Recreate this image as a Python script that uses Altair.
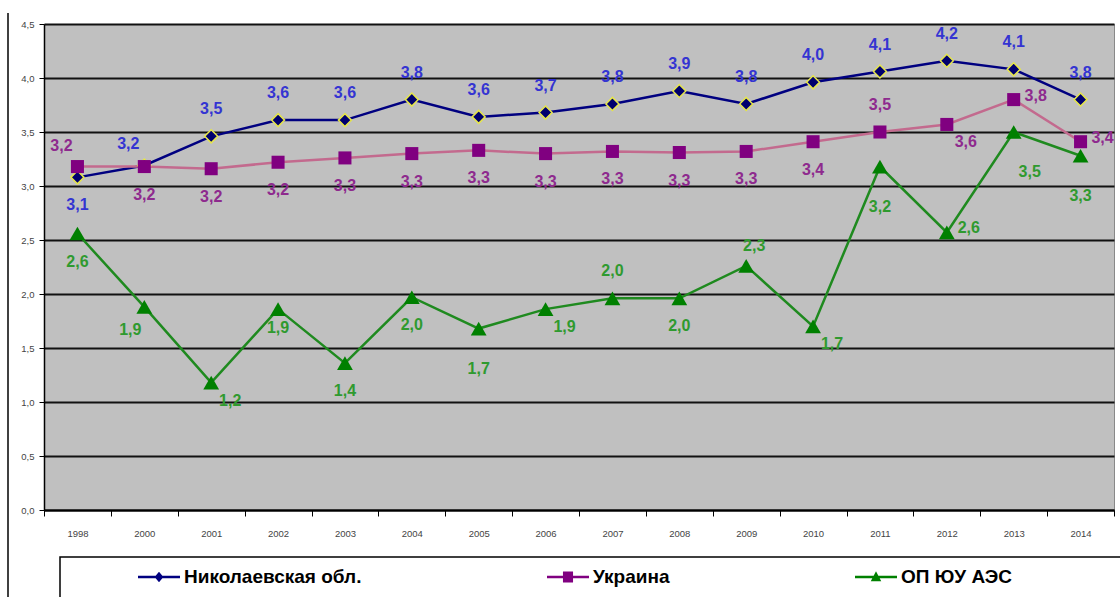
import altair as alt
import pandas as pd

# ---------------- data ----------------
years = ["1998", "2000", "2001", "2002", "2003", "2004", "2005", "2006",
         "2007", "2008", "2009", "2010", "2011", "2012", "2013", "2014"]
series_names = ["Николаевская обл.", "Украина", "ОП ЮУ АЭС"]

nikolaev = [3.08, 3.19, 3.46, 3.61, 3.61, 3.80, 3.64, 3.68,
            3.76, 3.88, 3.76, 3.96, 4.06, 4.16, 4.08, 3.80]
ukraine = [3.18, 3.18, 3.16, 3.22, 3.26, 3.30, 3.33, 3.30,
           3.32, 3.31, 3.32, 3.41, 3.50, 3.57, 3.80, 3.41]
aes = [2.56, 1.88, 1.18, 1.86, 1.36, 1.97, 1.68, 1.86,
       1.96, 1.96, 2.26, 1.70, 3.18, 2.57, 3.50, 3.28]

# label placement (words only, mapped to offsets below)
nikolaev_places = ["below", "above-left"] + ["above"] * 14
ukraine_places = ["above-left"] + ["below"] * 11 + ["above", "below-right", "right", "right"]
aes_places = ["below", "below-left", "below-right", "near-below", "below", "below",
              "far-below", "below-right", "above", "below", "above-right",
              "below-right", "far-below", "right", "far-below-right", "far-below"]

# ---------------- styles ----------------
OFFSETS = {
    "above": (0, -27), "below": (0, 28), "near-below": (0, 19),
    "far-below": (0, 40), "far-below-right": (16, 40),
    "right": (22, -4), "above-left": (-16, -21), "below-left": (-14, 23),
    "below-right": (19, 18), "above-right": (8, -20),
}
line_colors = ["#000080", "#c36a8e", "#1f8a1f"]
marker_colors = ["#00006e", "#800080", "#008000"]
marker_shapes = ["diamond", "square", "triangle-up"]
marker_sizes = [170, 170, 250]
marker_strokes = ["#e6e64a", "#800080", "#008000"]
marker_stroke_w = [1.5, 0, 0]
label_colors = ["#3434d2", "#8e2a8e", "#2f9a2f"]
legend_colors = ["#000080", "#800080", "#008000"]
legend_paths = [
    "M-1,-0.06H1V0.06H-1Z M0,-0.25L0.21,0L0,0.25L-0.21,0Z",
    "M-1,-0.06H1V0.06H-1Z M-0.24,-0.26H0.24V0.26H-0.24Z",
    "M-1,-0.06H1V0.06H-1Z M0,-0.27L0.25,0.2H-0.25Z",
]

FONT = "Liberation Sans"
W, H = 1070, 486


def fmt(v):
    return f"{v:.1f}".replace(".", ",")


frames = []
for name, vals, places in zip(series_names, [nikolaev, ukraine, aes],
                              [nikolaev_places, ukraine_places, aes_places]):
    frames.append(pd.DataFrame({
        "year": years, "series": name, "value": vals,
        "label": [fmt(v) for v in vals], "place": places,
    }))
df = pd.concat(frames, ignore_index=True)

x_enc = alt.X(
    "year:O", sort=years, bandPosition=0.5,
    scale=alt.Scale(type="band", domain=years, paddingInner=0, paddingOuter=0),
    axis=alt.Axis(title=None, labelAngle=0, tickBand="extent", tickSize=6,
                  tickColor="black", domainColor="black", domainWidth=2,
                  labelFont=FONT, labelFontSize=9.5, labelColor="#444444",
                  labelPadding=12, grid=False),
)
y_enc = alt.Y(
    "value:Q", scale=alt.Scale(domain=[0, 4.5], nice=False, zero=True),
    axis=alt.Axis(title=None, values=[0, 0.5, 1, 1.5, 2, 2.5, 3, 3.5, 4, 4.5],
                  labelExpr="replace(format(datum.value, '.1f'), '.', ',')",
                  tickSize=5, tickColor="black", domainColor="black",
                  domainWidth=1.5, labelFont=FONT, labelFontSize=9.5,
                  labelColor="#444444", labelPadding=5,
                  grid=True, gridColor="#111111", gridWidth=2),
)

layers = []

# decorative frame pieces (legend box and left border)
one = pd.DataFrame({"k": [0]})
layers.append(alt.Chart(one).mark_rect(fill="white", stroke="black", strokeWidth=1.5).encode(
    x=alt.value(16), x2=alt.value(1090), y=alt.value(533), y2=alt.value(620)))
layers.append(alt.Chart(one).mark_rule(color="black", strokeWidth=1.5).encode(
    x=alt.value(-36), y=alt.value(-11), y2=alt.value(620)))

for i, name in enumerate(series_names):
    sub = alt.Chart(df).transform_filter(alt.datum.series == name)
    layers.append(sub.mark_line(color=line_colors[i], strokeWidth=2.5).encode(x=x_enc, y=y_enc))

for i, name in enumerate(series_names):
    sub = alt.Chart(df).transform_filter(alt.datum.series == name)
    layers.append(sub.mark_point(
        filled=True, shape=marker_shapes[i], size=marker_sizes[i], opacity=1,
        fill=marker_colors[i], stroke=marker_strokes[i], strokeWidth=marker_stroke_w[i],
    ).encode(x=x_enc, y=y_enc))

for i, name in enumerate(series_names):
    for place, (dx, dy) in OFFSETS.items():
        sub = alt.Chart(df).transform_filter(
            (alt.datum.series == name) & (alt.datum.place == place))
        layers.append(sub.mark_text(
            dx=dx, dy=dy, font=FONT, fontSize=16, fontWeight="bold",
            color=label_colors[i], baseline="middle", align="center",
        ).encode(x=x_enc, y=y_enc, text="label:N"))

# legend-only layer (no visible data)
legend_def = alt.Legend(
    title=None, orient="none", legendX=94, legendY=532, direction="horizontal",
    symbolSize=1764, symbolStrokeWidth=0, labelFont=FONT, labelFontSize=19,
    labelFontWeight="bold", labelColor="black", labelOffset=4, labelLimit=400,
    columnPadding=185, padding=0,
)
layers.append(alt.Chart(df).mark_point(filled=True, opacity=1).encode(
    x=x_enc, y=y_enc,
    fill=alt.Fill("series:N", scale=alt.Scale(domain=series_names, range=legend_colors),
                  legend=legend_def),
    shape=alt.Shape("series:N", scale=alt.Scale(domain=series_names, range=legend_paths),
                    legend=legend_def),
).transform_filter("datum.value < 0"))

chart = alt.layer(*layers).properties(
    width=W, height=H,
    autosize=alt.AutoSizeParams(type="none"),
    padding={"left": 44, "top": 24, "right": 6, "bottom": 87},
    background="white",
).configure_view(fill="#c0c0c0", stroke="#888888", strokeWidth=1)

chart.save("out.html", embed_options={"renderer": "svg", "actions": False})
